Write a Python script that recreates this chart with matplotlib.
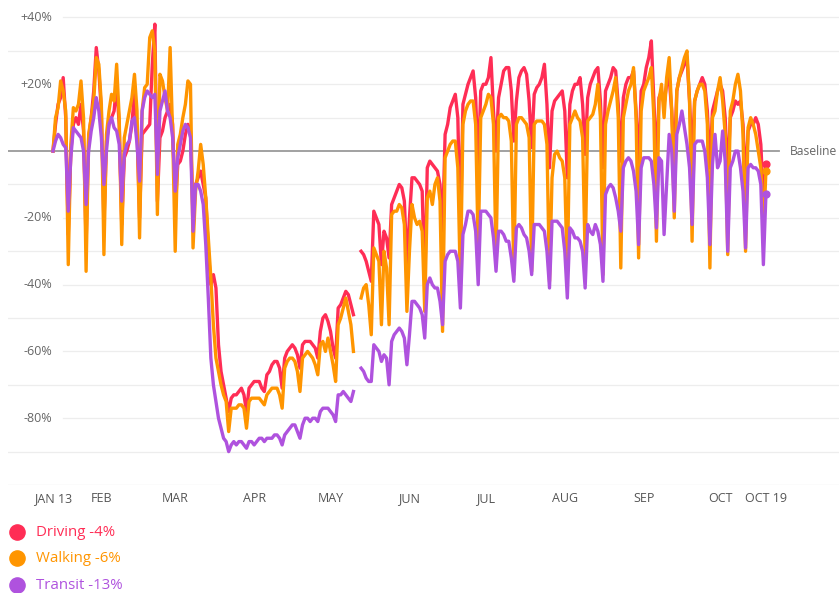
import numpy as np
import matplotlib.pyplot as plt

plt.rcParams['font.family'] = ['Open Sans', 'DejaVu Sans']

# daily % change vs. baseline (Jan 13 = 0), Jan 13 .. Oct 19 2020, one row per week (Mon..Sun)
driving = [
    0, 8, 14, 16, 22, 10, -25,
    0, 8, 10, 8, 14, 6, -28,
    4, 10, 18, 31, 24, 12, -22,
    3, 8, 10, 12, 20, 8, -22,
    -2, 0, 3, 8, 18, 6, -20,
    5, 6, 7, 8, 26, 38, -15,
    4, 6, 10, 12, 14, 8, -18,
    -4, -3, 0, 5, 8, 6, -20,
    -10, -8, -6, -10, -14, -30, -40,
    -37, -41, -58, -66, -70, -74, -78,
    -74, -73, -73, -72, -71, -73, -78,
    -71, -70, -69, -69, -69, -71, -72,
    -67, -66, -64, -63, -63, -65, -71,
    -62, -60, -59, -58, -59, -61, -65,
    -58, -57, -57, -57, -58, -59, -62,
    -54, -50, -49, -51, -54, -59, -62,
    -47, -46, -44, -42, -43, -46, -49,
    np.nan, np.nan, -30, -31, -33, -36, -39,
    -18, -20, -22, -34, -24, -26, -32,
    -16, -14, -12, -10, -11, -15, -34,
    -20, -8, -8, -9, -10, -12, -40,
    -5, -3, -4, -5, -6, -10, -24,
    5, 8, 13, 15, 17, 10, -25,
    14, 17, 20, 22, 24, 16, -5,
    18, 20, 20, 22, 28, 12, 0,
    16, 20, 24, 25, 25, 18, 3,
    15, 22, 24, 25, 23, 15, 1,
    17, 19, 20, 22, 26, 14, -5,
    12, 15, 16, 17, 18, 12, -8,
    14, 18, 20, 20, 22, 14, -1,
    16, 20, 22, 24, 25, 15, -5,
    18, 20, 22, 25, 24, 14, -3,
    16, 20, 22, 22, 24, 12, -5,
    18, 20, 25, 28, 33, 15, -5,
    16, 18, 14, 20, 22, 12, -3,
    18, 22, 24, 26, 28, 15, -2,
    15, 18, 20, 22, 20, 12, -5,
    12, 15, 18, 20, 18, 10, -8,
    10, 12, 15, 14, 15, 8, -10,
    6, 8, 8, 10, 8, 2, -15,
    -4,
]

walking = [
    0, 10, 13, 21, 18, 12, -34,
    2, 13, 12, 14, 21, 10, -36,
    5, 10, 15, 28, 26, 14, -31,
    5, 12, 17, 15, 26, 10, -28,
    4, 8, 12, 16, 23, 12, -26,
    12, 19, 20, 34, 36, 30, -19,
    23, 21, 16, 12, 31, 5, -30,
    2, 5, 10, 14, 21, 20, -29,
    -12, -6, 2, -4, -14, -26, -38,
    -52, -62, -66, -70, -73, -75, -84,
    -77, -77, -77, -76, -76, -77, -83,
    -75, -74, -74, -74, -74, -75, -76,
    -73, -72, -71, -71, -71, -73, -77,
    -65, -63, -62, -62, -63, -66, -72,
    -62, -61, -60, -61, -62, -64, -67,
    -58, -57, -60, -56, -60, -64, -69,
    -52, -50, -47, -44, -48, -52, -60,
    np.nan, np.nan, -44, -41, -40, -46, -55,
    -29, -31, -33, -52, -30, -35, -52,
    -19, -18, -18, -16, -17, -22, -48,
    -30, -16, -20, -22, -21, -24, -48,
    -14, -12, -16, -10, -8, -15, -54,
    -2, 0, 2, 3, 3, -5, -40,
    8, 12, 14, 15, 15, 8, -30,
    10, 12, 14, 17, 16, 8, -32,
    10, 11, 10, 10, 9, 3, -37,
    8, 10, 10, 9, 8, 4, -36,
    8, 9, 9, 9, 8, 2, -39,
    -8, -1, 0, -2, -3, -8, -37,
    8, 10, 12, 10, 9, 4, -32,
    9, 10, 11, 14, 20, 10, -37,
    8, 12, 15, 18, 22, 10, -35,
    10, 14, 18, 20, 25, 10, -32,
    12, 18, 20, 22, 25, 10, -27,
    15, 20, 10, 22, 28, 12, -20,
    18, 22, 25, 28, 30, 15, -27,
    15, 18, 20, 20, 18, 8, -35,
    10, 12, 18, 22, 15, 5, -31,
    12, 15, 20, 23, 18, 5, -30,
    7, 10, 8, 5, 0, -5, -25,
    -6,
]

transit = [
    0, 3, 5, 4, 2, 1, -18,
    -2, 7, 6, 5, 4, 0, -16,
    0, 6, 10, 16, 12, 4, -10,
    0, 8, 10, 7, 6, 2, -15,
    -1, 2, 3, 9, 10, 2, -9,
    12, 16, 18, 17, 16, 17, -7,
    12, 15, 18, 12, 10, 4, -12,
    -2, 2, 6, 8, 7, 4, -24,
    -10, -10, -12, -16, -28, -44, -62,
    -70, -75, -80, -83, -86, -87, -90,
    -88, -87, -88, -87, -87, -88, -89,
    -87, -87, -88, -87, -86, -86, -87,
    -86, -86, -86, -85, -85, -86, -88,
    -85, -84, -83, -82, -82, -84, -86,
    -82, -80, -80, -81, -80, -80, -81,
    -78, -77, -77, -77, -78, -79, -81,
    -73, -73, -72, -73, -74, -75, -72,
    np.nan, np.nan, -65, -66, -68, -69, -69,
    -58, -59, -60, -63, -61, -62, -70,
    -57, -55, -54, -53, -54, -56, -64,
    -55, -45, -45, -46, -47, -49, -56,
    -40, -38, -40, -41, -41, -45, -52,
    -33, -31, -30, -30, -30, -33, -47,
    -25, -22, -18, -18, -19, -24, -40,
    -18, -18, -18, -19, -20, -26, -36,
    -24, -24, -25, -27, -27, -32, -39,
    -23, -22, -23, -25, -26, -30, -37,
    -22, -22, -22, -23, -24, -30, -41,
    -21, -21, -21, -22, -23, -30, -44,
    -23, -24, -26, -26, -27, -30, -41,
    -22, -24, -25, -22, -24, -28, -39,
    -13, -11, -10, -11, -14, -18, -24,
    -5, -3, -2, -3, -6, -12, -28,
    -5, -2, -2, -2, -3, -10, -23,
    -2, -3, -25, -10, 5, 0, -18,
    5, 8, 12, 7, 2, -5, -22,
    2, 3, 3, 3, 0, -8, -28,
    -4, 5, -5, -3, 6, -3, -30,
    -5, -3, 0, 0, -5, -12, -29,
    -5, -4, -5, -5, -6, -10, -34,
    -13,
]

month_pos = [0, 19, 48, 79, 109, 140, 170, 201, 232, 262, 280]
month_labels = ['JAN 13', 'FEB', 'MAR', 'APR', 'MAY', 'JUN', 'JUL', 'AUG', 'SEP', 'OCT', 'OCT 19']
y_labels = {40: '+40%', 20: '+20%', -20: '-20%', -40: '-40%', -60: '-60%', -80: '-80%'}

series = [('Driving', driving, '#ff2d55'),
          ('Walking', walking, '#ff9500'),
          ('Transit', transit, '#af52de')]

days = np.arange(len(driving))

fig = plt.figure(figsize=(8.39, 5.93), dpi=100)
ax = fig.add_axes([8/839, 108/593, 831/839, 485/593])
xmin, xmax = -17.67, 308.7
ax.set_xlim(xmin, xmax)
ax.set_ylim(-100, 45.24)
ax.axis('off')

# grid
for v in range(-90, 50, 10):
    if v == 0:
        continue
    start = 3.9 if v in y_labels else xmin
    ax.plot([start, xmax], [v, v], color='#ededed', lw=0.9, zorder=0)
ax.plot([xmin, xmax], [-100, -100], color='#e2e2e2', lw=0.9, zorder=0)
ax.plot([xmin, 285.2], [0, 0], color='#9a9a9a', lw=1.3, zorder=1)
ax.text(289.3, 0, 'Baseline', ha='left', va='center', fontsize=8.7, color='#666666')

for v, lab in y_labels.items():
    ax.text(-0.4, v, lab, ha='right', va='center', fontsize=9, color='#666666')

for p, lab in zip(month_pos, month_labels):
    ax.text(p, -104, lab, ha='center', va='center', fontsize=9, color='#555555')

for i, (name, vals, col) in enumerate(series):
    vals = np.array(vals, dtype=float)
    ax.plot(days, vals, color=col, lw=2.4, zorder=2 + i, solid_joinstyle='round')
    ax.scatter([days[-1]], [vals[-1]], s=24, color=col, zorder=6)

# legend
leg_y = [-114.2, -121.9, -130.0]
for (name, vals, col), ly in zip(series, leg_y):
    ax.scatter([-14.1], [ly], s=120, color=col, clip_on=False)
    ax.text(-6.7, ly, '%s %d%%' % (name, vals[-1]), ha='left', va='center',
            fontsize=10.8, color=col, clip_on=False)

fig.savefig('out.png', dpi=100)
